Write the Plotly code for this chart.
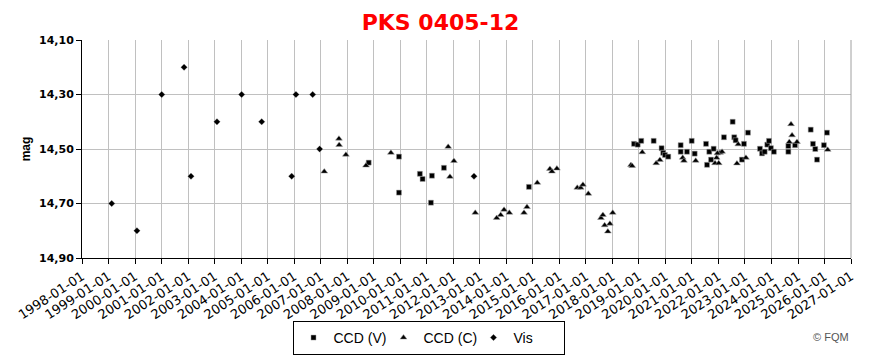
import plotly.graph_objects as go

# --- Data ---
vis_dates = ["1999-02-14", "2000-01-28", "2001-01-03", "2001-11-07", "2002-02-10",
             "2003-02-03", "2004-01-09", "2004-10-11", "2005-11-28", "2006-01-26",
             "2006-09-13", "2006-12-18", "2012-10-13"]
vis_mag = [14.70, 14.80, 14.30, 14.20, 14.60, 14.40, 14.30, 14.40, 14.60, 14.30,
           14.30, 14.50, 14.60]

ccdc_dates = ["2007-02-20", "2007-09-10", "2007-09-13", "2007-12-15", "2008-09-17",
              "2009-08-26", "2011-10-24", "2012-01-11", "2011-11-17", "2012-10-31",
              "2013-08-22", "2013-10-16", "2013-12-01", "2014-02-12", "2014-09-02",
              "2014-10-13", "2015-03-04", "2015-08-25", "2015-09-22", "2015-11-29",
              "2016-09-05", "2016-10-22", "2016-11-22", "2017-02-04", "2017-07-28",
              "2017-08-24", "2017-09-17", "2017-11-28", "2017-10-31", "2018-01-06",
              "2018-09-14", "2018-10-01", "2019-02-17", "2019-08-28", "2019-10-18",
              "2020-08-27", "2020-09-13", "2021-02-22", "2021-11-15", "2021-12-07",
              "2022-01-05", "2022-01-23", "2022-02-20", "2021-12-18", "2022-10-01",
              "2022-09-13", "2023-01-15", "2024-09-27", "2024-10-11", "2024-09-03",
              "2024-12-18", "2026-02-14"]
ccdc_mag = [14.583, 14.462, 14.485, 14.521, 14.561,
            14.514, 14.492, 14.544, 14.602, 14.734,
            14.753, 14.742, 14.723, 14.734, 14.734,
            14.713, 14.624, 14.573, 14.583, 14.572,
            14.642, 14.642, 14.631, 14.664, 14.753,
            14.742, 14.780, 14.774, 14.803, 14.734,
            14.559, 14.562, 14.512, 14.552, 14.540,
            14.532, 14.543, 14.543, 14.552, 14.532,
            14.552, 14.514, 14.510, 14.516, 14.483,
            14.553, 14.532, 14.409, 14.450, 14.474,
            14.474, 14.503]

ccdv_dates = ["2008-10-24", "2009-12-15", "2009-12-15", "2010-09-29", "2010-11-05",
              "2011-03-14", "2011-02-28", "2011-08-26", "2014-11-09", "2018-10-26",
              "2018-12-16", "2019-02-03", "2019-07-24", "2019-11-10", "2019-12-02",
              "2019-12-27", "2020-02-10", "2020-07-30", "2020-07-30", "2020-10-25",
              "2020-12-29", "2021-02-08", "2021-07-14", "2021-07-28", "2021-08-28",
              "2021-09-21", "2021-10-27", "2022-03-18", "2022-07-16", "2022-08-07",
              "2022-08-26", "2022-12-19", "2022-11-21", "2023-02-12", "2023-07-27",
              "2023-08-24", "2023-09-30", "2023-11-05", "2023-11-28", "2023-12-25",
              "2024-02-04", "2024-08-21", "2024-08-21", "2024-11-21", "2025-06-25",
              "2025-07-26", "2025-08-27", "2025-09-20", "2025-12-24", "2026-02-04"]
ccdv_mag = [14.550, 14.528, 14.660, 14.591, 14.610,
            14.598, 14.697, 14.569, 14.639, 14.481,
            14.484, 14.470, 14.470, 14.497, 14.514,
            14.522, 14.528, 14.486, 14.510, 14.510,
            14.470, 14.517, 14.481, 14.558, 14.510,
            14.539, 14.499, 14.457, 14.400, 14.457,
            14.468, 14.481, 14.539, 14.440, 14.499,
            14.516, 14.510, 14.484, 14.470, 14.497,
            14.510, 14.489, 14.510, 14.486, 14.429,
            14.481, 14.500, 14.539, 14.486, 14.440]

tick_years = list(range(1998, 2028))
tick_vals = [f"{y}-01-01" for y in tick_years]
tick_text = [f"{y}-01-01" for y in tick_years]
y_ticks = [14.10, 14.30, 14.50, 14.70, 14.90]

ARIAL = "Liberation Sans, Arial, sans-serif"
VERDANA = "DejaVu Sans, Verdana, sans-serif"

# page body has an 8px margin; figure is sized/positioned in its own coords
W, H = 868, 350
L, R, T, B = 74, 25, 32, 100
PW, PH = W - L - R, H - T - B

fig = go.Figure()
fig.add_trace(go.Scatter(
    x=ccdv_dates, y=ccdv_mag, mode="markers", name="CCD (V)",
    marker=dict(symbol="square", size=5, color="black",
                line=dict(color="#a0a0a0", width=0.5))))
fig.add_trace(go.Scatter(
    x=ccdc_dates, y=ccdc_mag, mode="markers", name="CCD (C)",
    marker=dict(symbol="triangle-up", size=6, color="black",
                line=dict(color="#a0a0a0", width=0.5))))
fig.add_trace(go.Scatter(
    x=vis_dates, y=vis_mag, mode="markers", name="Vis",
    marker=dict(symbol="diamond", size=5, color="black",
                line=dict(color="#a0a0a0", width=0.3))))

fig.update_layout(
    width=W, height=H,
    margin=dict(l=L, r=R, t=T, b=B, autoexpand=False),
    paper_bgcolor="white", plot_bgcolor="white",
    separators=",.",
    font=dict(family=ARIAL, color="black", size=11),
    title=dict(text="<b>PKS 0405-12</b>", x=432.5 / W, xref="container",
               xanchor="center", y=1 - 14 / H, yref="container", yanchor="middle",
               font=dict(family=VERDANA, size=22, color="#ff0000")),
    showlegend=True,
    legend=dict(orientation="h", x=(420.5 - L) / PW, xanchor="center", xref="paper",
                y=(T + PH - 313) / PH, yanchor="top", yref="paper",
                bordercolor="black", borderwidth=1, bgcolor="white",
                font=dict(family=ARIAL, size=14), itemwidth=30,
                entrywidth=45, entrywidthmode="pixels",
                traceorder="normal"),
)
fig.add_annotation(text="© FQM", xref="paper", yref="paper",
                   x=(822.5 - L) / PW, y=(T + PH - 329) / PH,
                   xanchor="center", yanchor="middle", showarrow=False,
                   font=dict(family=ARIAL, size=11, color="#555555"))

fig.update_xaxes(
    type="date", range=["1998-01-01", "2027-01-01"], automargin=False,
    tickmode="array", tickvals=tick_vals, ticktext=tick_text,
    tickangle=-33, tickfont=dict(family=VERDANA, size=13),
    showgrid=True, gridcolor="#c0c0c0", gridwidth=1,
    showline=True, linecolor="black", linewidth=1, mirror=False,
    ticks="outside", ticklen=5, tickcolor="black", zeroline=False)
fig.update_yaxes(
    range=[14.90, 14.10], automargin=False, tickmode="array", tickvals=y_ticks,
    tickformat=".2f",
    tickfont=dict(family=VERDANA, size=11, color="black", weight="bold"),
    title=dict(text="<b>mag</b>", font=dict(family=ARIAL, size=12), standoff=5),
    showgrid=True, gridcolor="#c0c0c0", gridwidth=1,
    showline=True, linecolor="black", linewidth=1,
    ticks="outside", ticklen=5, tickcolor="black", zeroline=False)

fig.add_shape(type="line", xref="paper", yref="paper", x0=1, x1=1, y0=0, y1=1,
              line=dict(color="#a0a0a0", width=1))

fig.write_html("out.html")
